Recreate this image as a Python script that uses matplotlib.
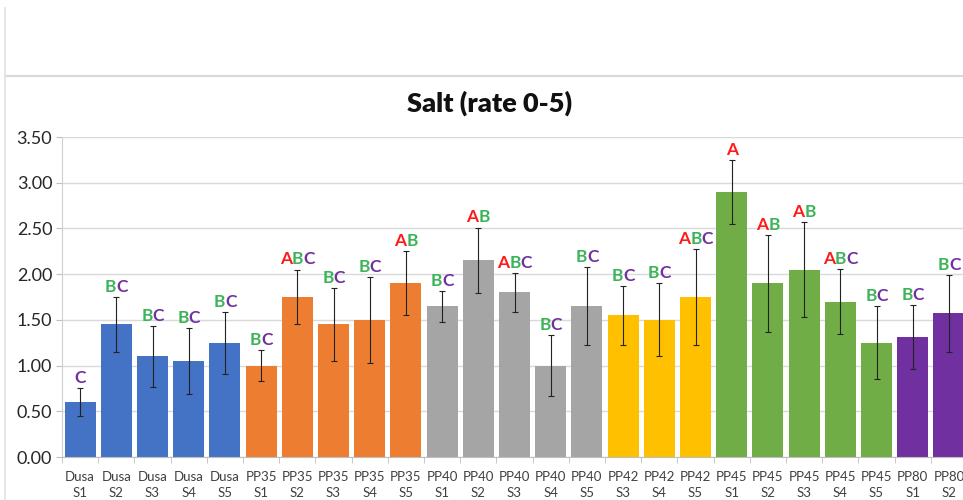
import matplotlib
matplotlib.use("Agg")
import matplotlib.pyplot as plt
from matplotlib.offsetbox import TextArea, HPacker, AnnotationBbox
from matplotlib.lines import Line2D
from matplotlib.ticker import MultipleLocator, FixedLocator, FormatStrFormatter

plt.rcParams['font.family'] = ['Lato', 'DejaVu Sans']

categories = ["Dusa\nS1", "Dusa\nS2", "Dusa\nS3", "Dusa\nS4", "Dusa\nS5",
              "PP35\nS1", "PP35\nS2", "PP35\nS3", "PP35\nS4", "PP35\nS5",
              "PP40\nS1", "PP40\nS2", "PP40\nS3", "PP40\nS4", "PP40\nS5",
              "PP42\nS3", "PP42\nS4", "PP42\nS5",
              "PP45\nS1", "PP45\nS2", "PP45\nS3", "PP45\nS4", "PP45\nS5",
              "PP80\nS1", "PP80\nS2"]
values = [0.60, 1.45, 1.10, 1.05, 1.25,
          1.00, 1.75, 1.45, 1.50, 1.90,
          1.65, 2.15, 1.80, 1.00, 1.65,
          1.55, 1.50, 1.75,
          2.90, 1.90, 2.05, 1.70, 1.25,
          1.31, 1.57]
errors = [0.15, 0.30, 0.33, 0.36, 0.34,
          0.17, 0.30, 0.40, 0.47, 0.35,
          0.17, 0.36, 0.21, 0.33, 0.43,
          0.32, 0.40, 0.52,
          0.35, 0.53, 0.52, 0.36, 0.40,
          0.35, 0.42]
letters = ["C", "BC", "BC", "BC", "BC",
           "BC", "ABC", "BC", "BC", "AB",
           "BC", "AB", "ABC", "BC", "BC",
           "BC", "BC", "ABC",
           "A", "AB", "AB", "ABC", "BC",
           "BC", "BC"]
groups = ["Dusa"] * 5 + ["PP35"] * 5 + ["PP40"] * 5 + ["PP42"] * 3 + ["PP45"] * 5 + ["PP80"] * 2

group_colors = {"Dusa": "#4472C4", "PP35": "#ED7D31", "PP40": "#A5A5A5",
                "PP42": "#FFC000", "PP45": "#70AD47", "PP80": "#7030A0"}
letter_colors = {"A": "#FF1A1A", "B": "#3DB45A", "C": "#7030A0"}

W, H = 963, 500
fig = plt.figure(figsize=(W / 100, H / 100), dpi=100)

# chart border lines
fig.add_artist(Line2D([5 / W, 1.0], [1 - 76 / H, 1 - 76 / H], color="#D9D9D9", lw=1.5))
fig.add_artist(Line2D([5 / W, 5 / W], [0, 1 - 8 / H], color="#E3E3E3", lw=1.2))

left, right, top, bottom = 62, 967, 137, 457
ax = fig.add_axes([left / W, 1 - bottom / H, (right - left) / W, (bottom - top) / H])

x = list(range(len(categories)))
colors = [group_colors[g] for g in groups]
ax.bar(x, values, width=0.86, color=colors, zorder=2)
ax.errorbar(x, values, yerr=errors, fmt="none", ecolor="#222222", elinewidth=0.8,
            capsize=2, capthick=0.8, zorder=3)

for xi, v, e, lab in zip(x, values, errors, letters):
    parts = [TextArea(ch, textprops=dict(color=letter_colors[ch], fontsize=12.5,
                                          fontweight="bold")) for ch in lab]
    pack = HPacker(children=parts, pad=0, sep=0, align="baseline")
    ab = AnnotationBbox(pack, (xi, v + e), xybox=(0, 1.5), xycoords="data",
                        boxcoords="offset points", box_alignment=(0.5, 0),
                        frameon=False, pad=0)
    ax.add_artist(ab)

ax.set_xlim(-0.5, len(categories) - 0.5)
ax.set_ylim(0, 3.5)
ax.yaxis.set_major_locator(MultipleLocator(0.5))
ax.yaxis.set_major_formatter(FormatStrFormatter("%.2f"))
ax.grid(axis="y", color="#D9D9D9", lw=1, zorder=0)
ax.set_axisbelow(True)

ax.set_xticks(x)
ax.set_xticklabels(categories, fontsize=9.5, color="#404040", linespacing=1.45)
ax.tick_params(axis="x", length=0, pad=10)
ax.xaxis.set_minor_locator(FixedLocator([i - 0.5 for i in range(len(categories) + 1)]))
ax.tick_params(axis="x", which="minor", length=4, color="#BFBFBF")
ax.tick_params(axis="y", labelsize=13, labelcolor="#262626", length=4, color="#BFBFBF", pad=3)

for s in ["top", "right"]:
    ax.spines[s].set_visible(False)
ax.spines["left"].set_color("#D0D0D0")
ax.spines["bottom"].set_color("#BFBFBF")

fig.text(490 / W, 1 - 103 / H, "Salt (rate 0-5)", ha="center", va="center",
         fontsize=19.5, fontweight="heavy", color="#111111")

fig.savefig("out.png", dpi=100)
